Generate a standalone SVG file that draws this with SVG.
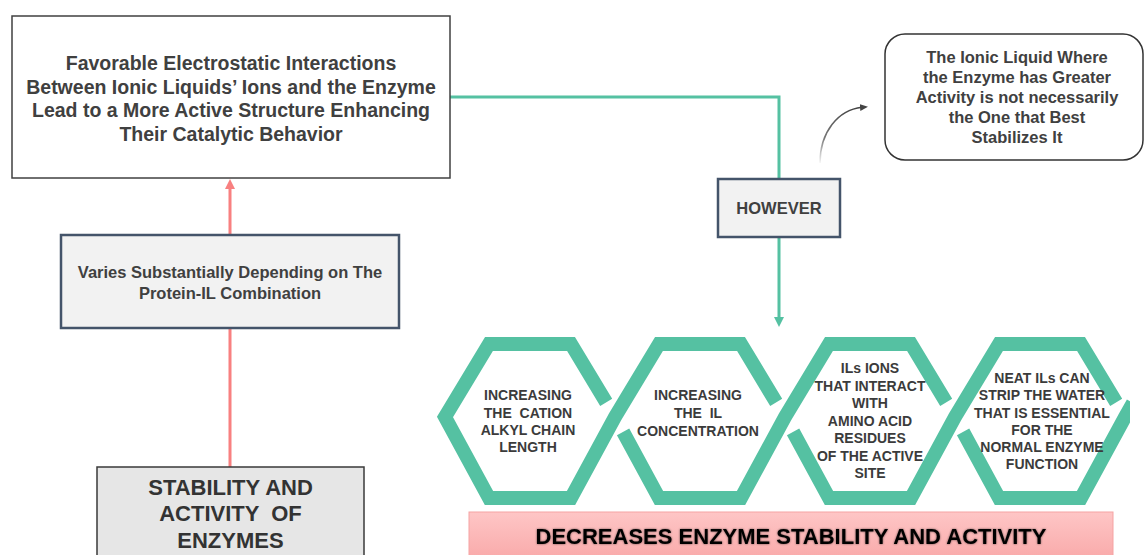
<svg xmlns="http://www.w3.org/2000/svg" width="1144" height="555" viewBox="0 0 1144 555">
<defs>
<style>
text { font-family: "Liberation Sans", Arial, sans-serif; font-weight: bold; text-anchor: middle; white-space: pre; }
.t1 { font-size: 19.5px; fill: #404040; }
.t2 { font-size: 16.5px; fill: #404040; }
.hx { font-size: 14px; fill: #3b3b3b; }
.big { font-size: 22px; fill: #333333; }
.bar { font-size: 22px; fill: #000000; }
.strand { fill: none; stroke: #55c1a2; stroke-width: 14; stroke-linejoin: miter; stroke-linecap: butt; }
.box { stroke-width: 2.5; stroke: #44546a; fill: #f2f2f2; }
</style>
<marker id="arrRed" markerUnits="userSpaceOnUse" markerWidth="12" markerHeight="12" refX="2" refY="5" orient="auto">
<path d="M0,0 L10,5 L0,10 Z" fill="#f88080"/>
</marker>
<marker id="arrTeal" markerUnits="userSpaceOnUse" markerWidth="12" markerHeight="12" refX="2" refY="5" orient="auto">
<path d="M0,0 L10,5 L0,10 Z" fill="#55c1a2"/>
</marker>
<marker id="arrGrey" markerUnits="userSpaceOnUse" markerWidth="10" markerHeight="10" refX="2" refY="3.5" orient="auto">
<path d="M0,0 L8,3.5 L0,7 Z" fill="#444444"/>
</marker>
<linearGradient id="fade" gradientUnits="userSpaceOnUse" x1="820" y1="165" x2="850" y2="108">
<stop offset="0" stop-color="#555555" stop-opacity="0"/>
<stop offset="0.4" stop-color="#555555" stop-opacity="0.8"/>
<stop offset="1" stop-color="#444444" stop-opacity="1"/>
</linearGradient>
<linearGradient id="pink" x1="0" y1="0" x2="0" y2="1">
<stop offset="0" stop-color="#fec6c6"/>
<stop offset="1" stop-color="#f9a8a8"/>
</linearGradient>
<filter id="glow" x="-5%" y="-40%" width="110%" height="180%">
<feGaussianBlur in="SourceAlpha" stdDeviation="1.2" result="b"/>
<feFlood flood-color="#000000" flood-opacity="0.55"/>
<feComposite in2="b" operator="in"/>
<feMerge><feMergeNode/><feMergeNode in="SourceGraphic"/></feMerge>
</filter>
<clipPath id="hexclip"><rect x="0" y="300" width="1130" height="220"/></clipPath>
</defs>

<g id="connectors">
<path d="M230,467 V187" fill="none" stroke="#f88080" stroke-width="3" marker-end="url(#arrRed)"/>
<path d="M450,97 H779 V319" fill="none" stroke="#55c1a2" stroke-width="3" marker-end="url(#arrTeal)"/>
<path d="M820,163 C820,132 838,110 862,107.3" fill="none" stroke="url(#fade)" stroke-width="1.5" marker-end="url(#arrGrey)"/>
</g>

<g id="node-favorable">
<rect x="12" y="16" width="438" height="162" fill="#ffffff" stroke="#404040" stroke-width="1.5"/>
<text class="t1" x="231" y="70">Favorable Electrostatic Interactions</text>
<text class="t1" x="231" y="94">Between Ionic Liquids’ Ions and the Enzyme</text>
<text class="t1" x="231" y="117">Lead to a More Active Structure Enhancing</text>
<text class="t1" x="231" y="141">Their Catalytic Behavior</text>
</g>

<g id="node-varies">
<rect class="box" x="61" y="235" width="338" height="93"/>
<text class="t2" x="230" y="278">Varies Substantially Depending on The</text>
<text class="t2" x="230" y="299">Protein-IL Combination</text>
</g>

<g id="node-stability">
<rect x="97" y="467" width="267" height="110" fill="#e6e6e6" stroke="#3a3a3a" stroke-width="1.5"/>
<text class="big" x="230.5" y="495">STABILITY AND</text>
<text class="big" x="230.5" y="521">ACTIVITY  OF</text>
<text class="big" x="230.5" y="548">ENZYMES</text>
</g>

<g id="node-however">
<rect class="box" x="718" y="179" width="122" height="58"/>
<text class="t2" x="779" y="214">HOWEVER</text>
</g>

<g id="node-note">
<rect x="885" y="34" width="258" height="126" rx="20" ry="20" fill="#ffffff" stroke="#333333" stroke-width="1.5"/>
<text class="t2" x="1017" y="63">The Ionic Liquid Where</text>
<text class="t2" x="1017" y="83">the Enzyme has Greater</text>
<text class="t2" x="1017" y="103">Activity is not necessarily</text>
<text class="t2" x="1017" y="123">the One that Best</text>
<text class="t2" x="1017" y="143">Stabilizes It</text>
</g>

<g id="node-hexagons">
<g clip-path="url(#hexclip)">
<path class="strand" d="M606.2,402.4 L571,344 L489,344 L445,417 L489,498 L571,498 L615,417 L659,344 L741,344 L776.2,402.4"/>
<path class="strand" d="M623.1,431.9 L659,498 L741,498 L785,417 L829,344 L911,344 L946.2,402.4"/>
<path class="strand" d="M793.1,431.9 L829,498 L911,498 L955,417 L999,344 L1081,344 L1116.2,402.4"/>
<path class="strand" d="M963.1,431.9 L999,498 L1081,498 L1125,417 L1133,403"/>
</g>
</g>

<g id="node-hex1">
<text class="hx" x="528" y="400">INCREASING</text>
<text class="hx" x="528" y="418">THE  CATION</text>
<text class="hx" x="528" y="435">ALKYL CHAIN</text>
<text class="hx" x="528" y="452">LENGTH</text>
</g>

<g id="node-hex2">
<text class="hx" x="698" y="400">INCREASING</text>
<text class="hx" x="698" y="418">THE  IL</text>
<text class="hx" x="698" y="436">CONCENTRATION</text>
</g>

<g id="node-hex3">
<text class="hx" x="870" y="373">ILs IONS</text>
<text class="hx" x="870" y="390.5">THAT INTERACT</text>
<text class="hx" x="870" y="408">WITH</text>
<text class="hx" x="870" y="425.5">AMINO ACID</text>
<text class="hx" x="870" y="443">RESIDUES</text>
<text class="hx" x="870" y="460.5">OF THE ACTIVE</text>
<text class="hx" x="870" y="478">SITE</text>
</g>

<g id="node-hex4">
<text class="hx" x="1042" y="383">NEAT ILs CAN</text>
<text class="hx" x="1042" y="400">STRIP THE WATER</text>
<text class="hx" x="1042" y="418">THAT IS ESSENTIAL</text>
<text class="hx" x="1042" y="435">FOR THE</text>
<text class="hx" x="1042" y="452">NORMAL ENZYME</text>
<text class="hx" x="1042" y="468.5">FUNCTION</text>
</g>

<g id="node-decreases">
<rect x="469" y="512" width="644" height="50" fill="url(#pink)" stroke="#f5a3a3" stroke-width="1"/>
<text class="bar" x="791" y="544" filter="url(#glow)">DECREASES ENZYME STABILITY AND ACTIVITY</text>
</g>
</svg>
